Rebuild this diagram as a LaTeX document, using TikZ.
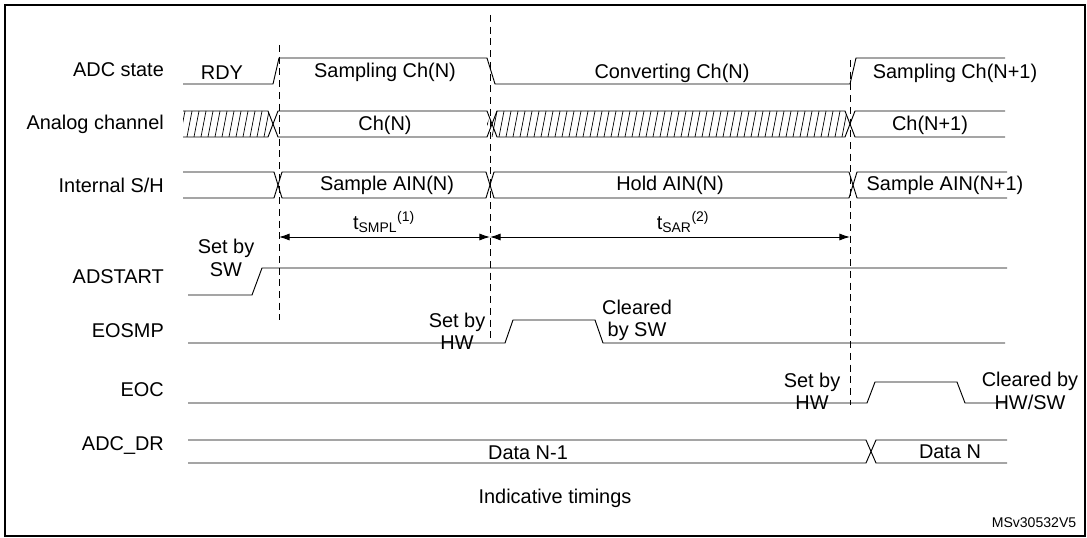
\documentclass[tikz,border=0pt]{standalone}
\usepackage{fontspec}
\setmainfont{Liberation Sans}
\usetikzlibrary{arrows.meta}

\tikzset{
  sig/.style={line width=0.8pt},
  tmark/.style={line width=0.7pt, dash pattern=on 6pt off 4pt},
  span/.style={{Latex[length=9pt,width=6pt]}-{Latex[length=9pt,width=6pt]}, line width=0.8pt},
  lbl/.style={anchor=east, font=\fontsize{17}{19}\selectfont},
  txt/.style={font=\fontsize{17}{19}\selectfont, align=center},
  hatch/.style={line width=0.6pt}
}

\begin{document}
\begin{tikzpicture}[x=0.03cm, y=-0.03cm]
        \useasboundingbox (0,0) rectangle (1087,538);
        \draw[line width=1pt] (5,5) rectangle (1085,536);

        % signal names
        \node[lbl] (nState) at (168,70) {ADC state};
        \node[lbl] (nAna) at (168,124) {Analog channel};
        \node[lbl] (nSH) at (168,185) {Internal S/H};
        \node[lbl] (nStart) at (168,277) {ADSTART};
        \node[lbl] (nEosmp) at (168,331) {EOSMP};
        \node[lbl] (nEoc) at (168,390) {EOC};
        \node[lbl] (nDr) at (168,446) {ADC\_DR};

        % ADC state
        \draw[sig] (183,84) -- (273,84) -- (279,58) -- (487,58) -- (495,84) -- (850,84) -- (856,58) -- (1005,58);
        \node[txt] (sRdy) at (222,73) {RDY};
        \node[txt] (sSmp) at (385,72) {Sampling Ch(N)};
        \node[txt] (sConv) at (672,73) {Converting Ch(N)};
        \node[txt] (sSmp1) at (955,73) {Sampling Ch(N+1)};

        % analog channel
        \begin{scope}
          \clip (183,111) -- (268,111) -- (273,124) -- (268,137) -- (183,137) -- cycle;
          \foreach \x in {180,187,...,276} \draw[hatch] (\x,137) -- (\x+5,111);
        \end{scope}
        \begin{scope}
          \clip (492,111) -- (845,111) -- (850,124) -- (845,137) -- (492,137) -- (487,124) -- cycle;
          \foreach \x in {485,492,...,856} \draw[hatch] (\x,137) -- (\x+5,111);
        \end{scope}
        \draw[sig] (183,111) -- (268,111) -- (278,137) -- (487,137) -- (497,111) -- (845,111) -- (855,137) -- (1005,137);
        \draw[sig] (183,137) -- (268,137) -- (278,111) -- (487,111) -- (497,137) -- (845,137) -- (855,111) -- (1005,111);
        \node[txt] (aChN) at (385,125) {Ch(N)};
        \node[txt] (aChN1) at (930,125) {Ch(N+1)};

        % internal S/H
        \draw[sig] (183,172) -- (274,172) -- (282,198) -- (486,198) -- (494,172) -- (849,172) -- (857,198) -- (1007,198);
        \draw[sig] (183,198) -- (274,198) -- (282,172) -- (486,172) -- (494,198) -- (849,198) -- (857,172) -- (1007,172);
        \node[txt] (hSmp) at (387,185) {Sample AIN(N)};
        \node[txt] (hHold) at (670,185) {Hold AIN(N)};
        \node[txt] (hSmp1) at (945,185) {Sample AIN(N+1)};

        % time marks
        \coordinate (m1) at (279,237);
        \coordinate (m2) at (490,237);
        \coordinate (m3) at (850,237);
        \draw[tmark] (279,45) -- (279,320);
        \draw[tmark] (490,15) -- (490,343);
        \draw[tmark] (850,60) -- (850,405);
        \draw[span] (m1) -- (m2);
        \draw[span] (m2) -- (m3);
        \node[txt] (tSmpl) at (384,222) {t\textsubscript{SMPL}\textsuperscript{(1)}};
        \node[txt] (tSar) at (683,222) {t\textsubscript{SAR}\textsuperscript{(2)}};

        % ADSTART
        \draw[sig] (188,295) -- (252,295) -- (262,268) -- (1007,268);
        \node[txt] (stSw) at (226,258) {Set by\\SW};

        % EOSMP
        \draw[sig] (188,343) -- (505,343) -- (513,320) -- (595,320) -- (603,343) -- (1005,343);
        \node[txt] (eoSet) at (457,331) {Set by\\HW};
        \node[txt] (eoClr) at (637,320) {Cleared\\by SW};

        % EOC
        \draw[sig] (188,403) -- (867,403) -- (875,382) -- (957,382) -- (965,403) -- (1007,403);
        \node[txt] (ecSet) at (812,391) {Set by\\HW};
        \node[txt] (ecClr) at (1030,391) {Cleared by\\HW/SW};

        % ADC_DR
        \draw[sig] (188,440) -- (866,440) -- (876,463) -- (1007,463);
        \draw[sig] (188,463) -- (866,463) -- (876,440) -- (1007,440);
        \node[txt] (dN1) at (528,453) {Data N-1};
        \node[txt] (dN) at (950,452) {Data N};

        \node[txt] (note) at (555,498) {Indicative timings};
        \node[font=\fontsize{12}{14}\selectfont] (ref) at (1034,523) {MSv30532V5};
    \end{tikzpicture}
\end{document}
